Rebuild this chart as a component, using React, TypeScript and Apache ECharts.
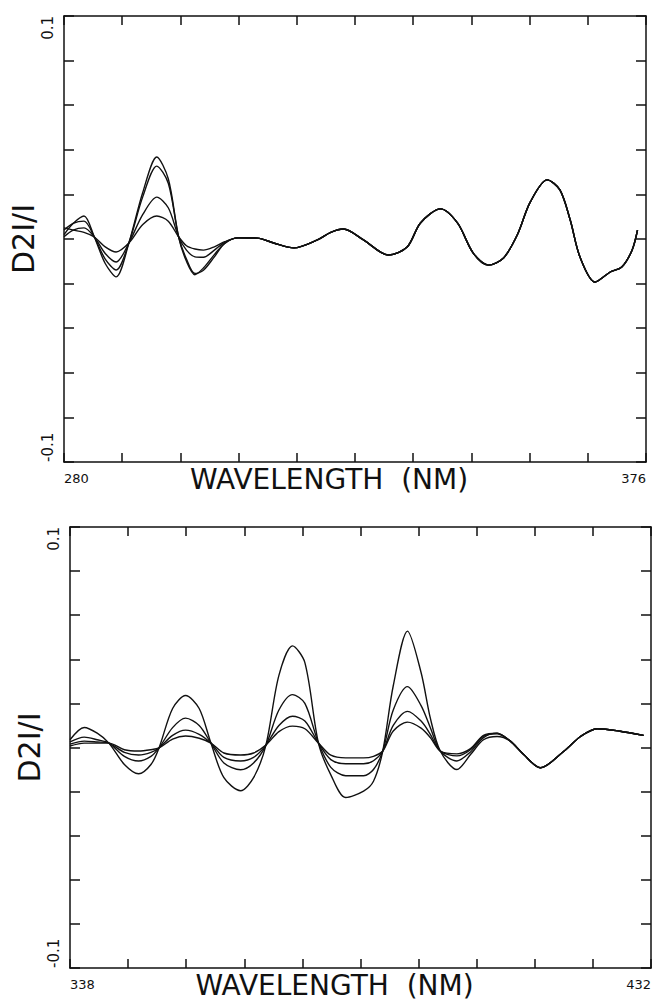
import React, { useEffect, useRef } from 'react';
import * as echarts from 'echarts';

// ---------- axis ranges & tick labels ----------
const topXMin = 280;
const topXMax = 376;
const botXMin = 338;
const botXMax = 432;
const yMin = -0.1;
const yMax = 0.1;
const yStep = 0.02;
const topXTickLabels = ['280', '376'];
const botXTickLabels = ['338', '432'];
const yTickLabels = ['-0.1', '0.1'];
const xTitle = 'WAVELENGTH  (NM)';
const yTitle = 'D2I/I';

// ---------- top panel (280-376 nm) ----------
const topHeadWl = [280, 281.5, 283.3, 285, 286.8, 288.6, 290.7, 293, 295.3, 297.2, 298.9, 300.2, 301.6, 303, 304.8, 306.5];
const topA = [0.002, 0.007, 0.0103, 0.0009, -0.011, -0.017, -0.0018, 0.021, 0.0368, 0.027, 0.001, -0.010, -0.016, -0.013, -0.007, -0.002];
const topB = [0.004, 0.007, 0.008, 0.0009, -0.009, -0.0139, -0.0018, 0.019, 0.0327, 0.025, 0.001, -0.009, -0.0155, -0.014, -0.008, -0.002];
const topC = [0.001, 0.004, 0.005, 0.0009, -0.0065, -0.0103, -0.0018, 0.011, 0.0188, 0.014, 0.001, -0.005, -0.008, -0.0082, -0.005, -0.0015];
const topD = [0.005, 0.004, 0.003, 0.0009, -0.0035, -0.0058, -0.0018, 0.0065, 0.0103, 0.008, 0.001, -0.003, -0.0045, -0.005, -0.0035, -0.0012];
const topTailWl = [308.7, 311.9, 314.6, 317.9, 321.8, 324.0, 326.1, 329.4, 333.5, 336.6, 338.8, 342.1, 344.9, 347.5, 350.0, 352.5, 354.8, 356.9, 359.7, 361.8, 363.5, 365.1, 367.6, 370.1, 372.0, 373.7, 374.6];
const topTail = [0.0005, 0.0004, -0.0018, -0.004, -0.0004, 0.003, 0.0045, -0.0004, -0.0072, -0.0036, 0.0072, 0.0135, 0.0072, -0.0063, -0.0117, -0.0085, 0.002, 0.0165, 0.0265, 0.022, 0.0085, -0.008, -0.0193, -0.0148, -0.0126, -0.005, 0.004];

// ---------- bottom panel (338-432 nm) ----------
const botHeadWl = [338, 340.3, 342.4, 344.3, 346.8, 349.1, 351.1, 352.4, 354.6, 356.7, 358.9, 360.8, 362.9, 365.6, 367.7, 369.7, 371.8, 374.0, 376.0, 378.2, 380.2, 382.6, 385.5, 387.1, 388.6, 390.3, 392.6, 394.8, 396.3, 397.9, 400.6, 402.8, 404.9, 407.1];
const botA = [0.0035, 0.0091, 0.0065, 0.002, -0.0077, -0.0119, -0.0077, -0.0002, 0.0177, 0.0236, 0.0177, 0.002, -0.0137, -0.0196, -0.0137, 0.0011, 0.0327, 0.0461, 0.0385, 0.002, -0.0124, -0.0227, -0.0198, -0.0153, -0.0016, 0.028, 0.0528, 0.034, 0.0133, -0.0016, -0.0100, -0.0032, 0.0035, 0.005];
const botB = [0.0025, 0.0047, 0.0035, 0.002, -0.004, -0.0061, -0.004, -0.0002, 0.009, 0.0133, 0.010, 0.002, -0.007, -0.0101, -0.007, 0.0011, 0.017, 0.024, 0.020, 0.002, -0.009, -0.0128, -0.0128, -0.010, -0.0016, 0.017, 0.0276, 0.019, 0.009, -0.0016, -0.0061, -0.002, 0.0045, 0.0065];
const botC = [0.0015, 0.0029, 0.0025, 0.002, -0.0022, -0.0034, -0.0022, -0.0002, 0.0055, 0.0079, 0.006, 0.002, -0.0045, -0.0061, -0.0045, 0.0011, 0.010, 0.0142, 0.012, 0.002, -0.0055, -0.0074, -0.0074, -0.006, -0.0016, 0.010, 0.0164, 0.012, 0.006, -0.0016, -0.0038, -0.001, 0.0052, 0.0062];
const botD = [0.0007, 0.002, 0.002, 0.002, -0.001, -0.0016, -0.001, -0.0002, 0.0038, 0.0052, 0.0042, 0.002, -0.0025, -0.0034, -0.0025, 0.0011, 0.0072, 0.0097, 0.0085, 0.002, -0.0035, -0.0047, -0.0047, -0.004, -0.0016, 0.0075, 0.0115, 0.0088, 0.0045, -0.0016, -0.0029, -0.0005, 0.0055, 0.0065];
const botTailWl = [409.2, 411.4, 414.1, 417.9, 420.6, 423.3, 427.0, 430.8];
const botTail = [0.003, -0.0032, -0.0092, -0.0017, 0.005, 0.0085, 0.0074, 0.0055];

const FONT = 'DejaVu Sans';
const INK = '#111';

function joinCurve(headWl: number[], head: number[], tailWl: number[], tail: number[]) {
  return headWl.map((w, i) => [w, head[i]]).concat(tailWl.map((w, i) => [w, tail[i]]));
}

function evenTicks(min: number, max: number, n: number) {
  return Array.from({ length: n + 1 }, (_, i) => min + ((max - min) * i) / n);
}

const lineStyle = { color: INK, width: 1.5 };

function xAxes(gridIndex: number, min: number, max: number, labels: string[]) {
  const ticks = evenTicks(min, max, 10);
  const common: any = {
    type: 'value',
    gridIndex,
    min,
    max,
    axisLine: { show: true, onZero: false, lineStyle },
    axisTick: { show: true, inside: true, length: 9, customValues: ticks, lineStyle },
    splitLine: { show: false },
  };
  return [
    {
      ...common,
      position: 'bottom',
      axisLabel: {
        show: true,
        customValues: [min, max],
        formatter: (v: number) => (Math.abs(v - min) < 1e-9 ? labels[0] : labels[1]),
        alignMinLabel: 'left',
        alignMaxLabel: 'right',
        margin: 10,
        fontSize: 13,
        fontFamily: FONT,
        color: INK,
      },
      name: xTitle,
      nameLocation: 'middle',
      nameGap: 3,
      nameMoveOverlap: false,
      nameTextStyle: {
        fontSize: 28,
        fontFamily: FONT,
        color: INK,
        verticalAlign: 'top',
        padding: [0, 52, 0, 0],
      },
    },
    { ...common, position: 'top', axisLabel: { show: false } },
  ];
}

function yAxes(gridIndex: number) {
  const common: any = {
    type: 'value',
    gridIndex,
    min: yMin,
    max: yMax,
    interval: yStep,
    axisLine: { show: true, onZero: false, lineStyle },
    axisTick: { show: true, inside: true, length: 10, lineStyle },
    splitLine: { show: false },
  };
  return [
    {
      ...common,
      position: 'left',
      axisLabel: {
        show: true,
        customValues: [yMin, yMax],
        formatter: (v: number) => (v < 0 ? yTickLabels[0] : yTickLabels[1]),
        rotate: 90,
        alignMinLabel: 'left',
        alignMaxLabel: 'right',
        margin: 9,
        fontSize: 15,
        fontFamily: FONT,
        color: INK,
      },
      name: yTitle,
      nameLocation: 'middle',
      nameRotate: 90,
      nameGap: 26,
      nameMoveOverlap: false,
      nameTextStyle: { fontSize: 30, fontFamily: FONT, color: INK },
    },
    { ...common, position: 'right', axisLabel: { show: false } },
  ];
}

function curveSeries(data: number[][], xAxisIndex: number, yAxisIndex: number) {
  return {
    type: 'line',
    xAxisIndex,
    yAxisIndex,
    data,
    showSymbol: false,
    symbol: 'none',
    smooth: 0.3,
    lineStyle: { color: INK, width: 1.4 },
    silent: true,
  };
}

export default function App() {
  const ref = useRef<HTMLDivElement>(null);
  useEffect(() => {
    if (!ref.current) return;
    const chart = echarts.init(ref.current, undefined, { renderer: 'svg' });
    const topCurves = [topA, topB, topC, topD].map((c) => joinCurve(topHeadWl, c, topTailWl, topTail));
    const botCurves = [botA, botB, botC, botD].map((c) => joinCurve(botHeadWl, c, botTailWl, botTail));
    chart.setOption({
      animation: false,
      backgroundColor: '#fff',
      grid: [
        { left: 63, top: 16, width: 583, height: 446 },
        { left: 70, top: 527, width: 582, height: 445 },
      ],
      xAxis: [...xAxes(0, topXMin, topXMax, topXTickLabels), ...xAxes(1, botXMin, botXMax, botXTickLabels)],
      yAxis: [...yAxes(0), ...yAxes(1)],
      series: [
        ...topCurves.map((d) => curveSeries(d, 0, 0)),
        ...botCurves.map((d) => curveSeries(d, 2, 2)),
      ],
    });
    return () => chart.dispose();
  }, []);
  return <div ref={ref} style={{ position: 'absolute', left: 0, top: 0, width: 654, height: 1000 }} />;
}
